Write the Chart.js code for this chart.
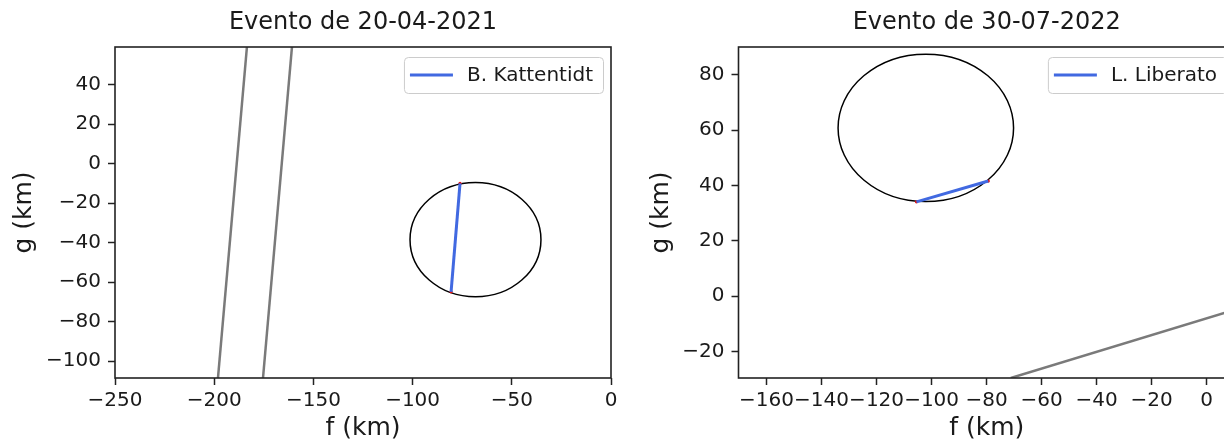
<!DOCTYPE html>
<html>
<head>
<meta charset="utf-8">
<script src="https://cdn.jsdelivr.net/npm/chart.js@4.4.1/dist/chart.umd.min.js"></script>
<style>
  html, body { margin: 0; padding: 0; background: #fff; }
  #wrap { position: relative; width: 1224px; height: 441px; overflow: hidden; }
  canvas { position: absolute; top: 0; }
  #left { left: 0; }
  #right { left: 620px; }
</style>
</head>
<body>
<div id="wrap">
  <canvas id="left" width="640" height="441"></canvas>
  <canvas id="right" width="640" height="441"></canvas>
</div>
<script>
// event 20-04-2021
const leftTitle = 'Evento de 20-04-2021'
const leftObserver = 'B. Kattentidt'
const leftXTicks = [-250, -200, -150, -100, -50, 0]
const leftYTicks = [-100, -80, -60, -40, -20, 0, 20, 40]
const leftChordF = [-76.1, -80.6]
const leftChordG = [-10.0, -64.9]
const leftBand1F = [-183.5, -198.1]
const leftBand1G = [59, -108.5]
const leftBand2F = [-160.8, -175.4]
const leftBand2G = [59, -108.5]
const leftEllipse = [-68.3, -38.5, 33.0, 28.9] // centre f, centre g, radius f, radius g

// event 30-07-2022
const rightTitle = 'Evento de 30-07-2022'
const rightObserver = 'L. Liberato'
const rightXTicks = [-160, -140, -120, -100, -80, -60, -40, -20, 0]
const rightYTicks = [-20, 0, 20, 40, 60, 80]
const rightChordF = [-105.5, -79.4]
const rightChordG = [34.1, 41.6]
const rightBandF = [-71.2, 10.3]
const rightBandG = [-29.5, -4.8]
const rightEllipse = [-102.1, 60.8, 31.9, 26.6]

const FONT = '"DejaVu Sans", sans-serif'
const INK = '#1a1a1a'
Chart.defaults.font.family = FONT
Chart.defaults.color = INK

function pts(xs, ys){
    return xs.map((x, i) => ({ x: x, y: ys[i] }))
}

function minusLabel(v){
    return v < 0 ? '\u2212' + Math.abs(v) : String(v)
}

const ellipsePlugin = {
    id: 'ellipseShape',
    beforeDatasetsDraw(chart, args, opts){
        const { ctx, chartArea, scales } = chart
        const e = opts.shape
        if(!e) return
        const cx = scales.x.getPixelForValue(e[0])
        const cy = scales.y.getPixelForValue(e[1])
        const rx = Math.abs(scales.x.getPixelForValue(e[0] + e[2]) - cx)
        const ry = Math.abs(scales.y.getPixelForValue(e[1] + e[3]) - cy)
        ctx.save()
        ctx.beginPath()
        ctx.rect(chartArea.left, chartArea.top, chartArea.right - chartArea.left, chartArea.bottom - chartArea.top)
        ctx.clip()
        ctx.beginPath()
        ctx.ellipse(cx, cy, rx, ry, 0, 0, Math.PI * 2)
        ctx.strokeStyle = '#000'
        ctx.lineWidth = 1.5
        ctx.stroke()
        ctx.restore()
    }
}

const framePlugin = {
    id: 'frameBox',
    afterDatasetsDraw(chart){
        const { ctx, chartArea } = chart
        ctx.save()
        ctx.strokeStyle = '#222'
        ctx.lineWidth = 1.6
        ctx.strokeRect(chartArea.left, chartArea.top, chartArea.right - chartArea.left, chartArea.bottom - chartArea.top)

        // legend box, top right inside the axes
        const ds = chart.data.datasets.find(d => d.inLegend)
        ctx.font = '20px ' + FONT
        const tw = ctx.measureText(ds.label).width
        const w = 63 + tw + 10
        const h = 36
        const x = chartArea.right - 8 - w
        const y = chartArea.top + 10
        ctx.fillStyle = 'rgba(255,255,255,0.85)'
        ctx.strokeStyle = '#cccccc'
        ctx.lineWidth = 1
        ctx.beginPath()
        ctx.roundRect(x + 0.5, y + 0.5, w, h, 4)
        ctx.fill()
        ctx.stroke()
        ctx.strokeStyle = ds.borderColor
        ctx.lineWidth = ds.borderWidth
        ctx.beginPath()
        ctx.moveTo(x + 6, y + h / 2)
        ctx.lineTo(x + 49, y + h / 2)
        ctx.stroke()
        ctx.fillStyle = INK
        ctx.textBaseline = 'middle'
        ctx.fillText(ds.label, x + 63, y + h / 2 + 1)
        ctx.restore()
    }
}

function axis(min, max, ticks, label, isX, size, titlePad){
    return {
        type: 'linear',
        min: min,
        max: max,
        afterBuildTicks: s => { s.ticks = ticks.map(v => ({ value: v })) },
        afterFit: s => { if(isX) s.height = size; else s.width = size },
        ticks: {
            font: { size: 20 },
            color: INK,
            padding: isX ? 3.5 : 7,
            callback: minusLabel
        },
        grid: { drawOnChartArea: false, tickLength: 7, tickColor: '#222', tickWidth: 1.5 },
        border: { display: false },
        title: {
            display: true,
            text: label,
            color: INK,
            font: { size: 25, lineHeight: isX ? 1 : 1.2 },
            padding: titlePad
        }
    }
}

function makeChart(id, cfg){
    const datasets = cfg.bands.map(b => ({
        label: 'band',
        data: b,
        showLine: true,
        borderColor: '#7a7a7a',
        borderWidth: 2.5,
        pointRadius: 0,
        clip: 0
    }))
    datasets.push({
        label: cfg.observer,
        inLegend: true,
        data: cfg.chord,
        showLine: true,
        borderColor: '#4169e1',
        borderWidth: 3,
        pointRadius: 0,
        clip: 0
    })
    datasets.push({
        label: 'ends',
        data: cfg.chord,
        showLine: false,
        pointRadius: 1.6,
        pointBorderWidth: 0,
        pointBackgroundColor: '#e01010'
    })

    return new Chart(document.getElementById(id), {
        type: 'scatter',
        data: { datasets: datasets },
        plugins: [ellipsePlugin, framePlugin],
        options: {
            responsive: false,
            animation: false,
            events: [],
            layout: { padding: { left: 0, right: cfg.padRight, top: 0, bottom: 0 } },
            plugins: {
                legend: { display: false },
                tooltip: { enabled: false },
                title: {
                    display: true,
                    text: cfg.title,
                    fullSize: false,
                    color: INK,
                    font: { size: 24, weight: 'normal', lineHeight: 1.2 },
                    padding: { top: 8, bottom: 10.2 }
                },
                ellipseShape: { shape: cfg.ellipse }
            },
            scales: {
                x: axis(cfg.xMin, cfg.xMax, cfg.xTicks, 'f (km)', true, 63, { top: 0, bottom: 0 }),
                y: axis(cfg.yMin, cfg.yMax, cfg.yTicks, 'g (km)', false, cfg.yWidth, { top: cfg.gPad, bottom: 0 })
            }
        }
    })
}

makeChart('left', {
    title: leftTitle,
    observer: leftObserver,
    chord: pts(leftChordF, leftChordG),
    bands: [pts(leftBand1F, leftBand1G), pts(leftBand2F, leftBand2G)],
    ellipse: leftEllipse,
    xMin: -250, xMax: 0, yMin: -108.5, yMax: 59,
    xTicks: leftXTicks, yTicks: leftYTicks,
    yWidth: 115, padRight: 29, gPad: 9
})

makeChart('right', {
    title: rightTitle,
    observer: rightObserver,
    chord: pts(rightChordF, rightChordG),
    bands: [pts(rightBandF, rightBandG)],
    ellipse: rightEllipse,
    xMin: -170.2, xMax: 10.3, yMin: -29.5, yMax: 90,
    xTicks: rightXTicks, yTicks: rightYTicks,
    yWidth: 118.5, padRight: 25, gPad: 26
})
</script>
</body>
</html>
